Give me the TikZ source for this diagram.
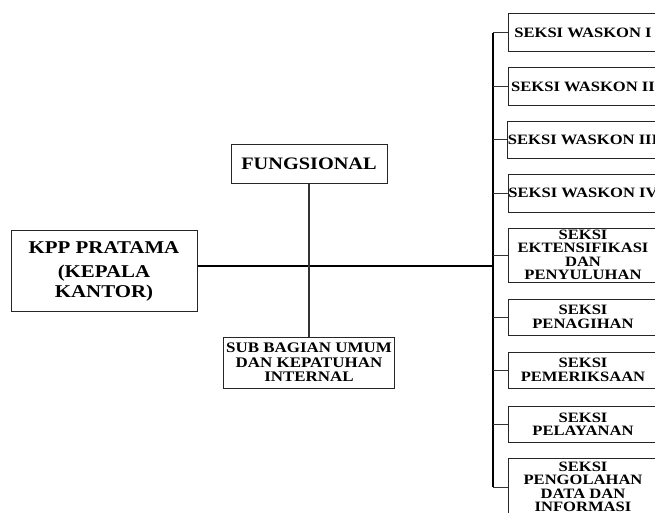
\documentclass[tikz,border=0pt]{standalone}
\usepackage{fontspec}
\newfontfamily\tnr[FakeStretch=1.16]{Liberation Serif}
\begin{document}
\begin{tikzpicture}[x=1pt,y=-1pt,
  box/.style={draw=black!85, line width=1pt, rectangle, inner sep=0pt, align=center, text=black},
  rbox/.style={box, minimum width=150pt, font=\tnr\bfseries\fontsize{14.3}{13.4}\selectfont},
  conn/.style={draw=black!80, line width=1pt},
  thick conn/.style={draw=black, line width=2pt}]
\useasboundingbox (0,0) rectangle (655,513);
\clip (0,0) rectangle (655,513);
\node[box, minimum width=186pt, minimum height=81pt, font=\tnr\bfseries\fontsize{18}{20}\selectfont] (kpp) at (104,271) {KPP PRATAMA\\[4pt](KEPALA\\KANTOR)};
\node[box, minimum width=156pt, minimum height=38pt, font=\tnr\bfseries\fontsize{17.5}{20}\selectfont] (fung) at (309,164) {FUNGSIONAL};
\node[box, minimum width=171pt, minimum height=51pt, font=\tnr\bfseries\fontsize{14.6}{14.5}\selectfont] (sub) at (309,362.5) {SUB BAGIAN UMUM\\DAN KEPATUHAN\\INTERNAL};
\node[rbox, minimum height=38pt] (b1) at (583,33) {SEKSI WASKON I};
\node[rbox, minimum height=38pt] (b2) at (583,87) {SEKSI WASKON II};
\node[rbox, minimum height=37pt] (b3) at (583,140) {SEKSI WASKON III};
\node[rbox, minimum height=38pt] (b4) at (583,193) {SEKSI WASKON IV};
\node[rbox, minimum height=54pt] (b5) at (583,255) {SEKSI\\EKTENSIFIKASI\\DAN\\PENYULUHAN};
\node[rbox, minimum height=36pt] (b6) at (583,317) {SEKSI\\PENAGIHAN};
\node[rbox, minimum height=36pt] (b7) at (583,370) {SEKSI\\PEMERIKSAAN};
\node[rbox, minimum height=36pt] (b8) at (583,424) {SEKSI\\PELAYANAN};
\node[rbox, minimum height=58pt] (b9) at (583,487) {SEKSI\\PENGOLAHAN\\DATA DAN\\INFORMASI};
\coordinate (j) at (493,266);
\draw[thick conn] (kpp.east |- j) -- (j);
\draw[thick conn, line width=1.6pt] (b1.west -| j) -- (b9.west -| j);
\draw[conn, line width=1.3pt] (fung.south) -- (sub.north);
\foreach \b in {b1,b2,b3,b4,b5,b6,b7,b8,b9}
  \draw[conn] (\b.west) -- (\b.west -| j);
\end{tikzpicture}
\end{document}
